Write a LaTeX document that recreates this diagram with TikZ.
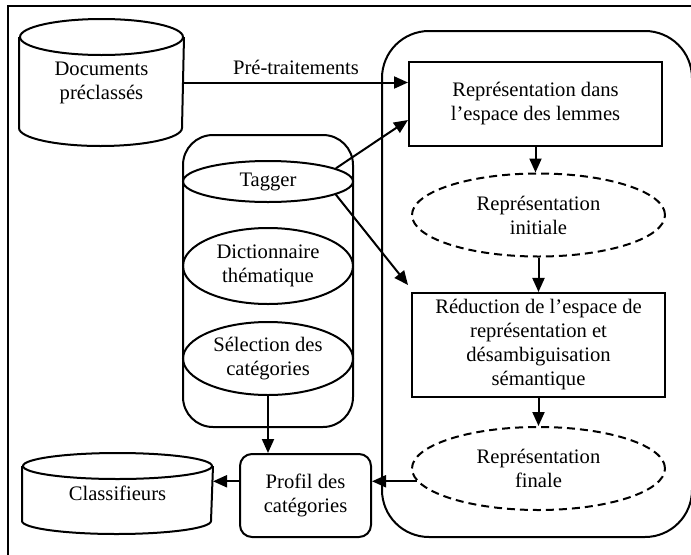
\documentclass[tikz,border=0pt]{standalone}
\usepackage{fontspec}
\setmainfont{Liberation Serif}
\usetikzlibrary{shapes.geometric,arrows.meta}
\tikzset{
  txt/.style={align=center,inner sep=0pt},
  boite/.style={draw,rectangle,align=center,minimum width=126.5pt},
  bulle/.style={draw,dash pattern=on 4pt off 2.5pt,ellipse,align=center,inner sep=0pt,minimum width=126.5pt,minimum height=41.5pt},
  outil/.style={draw,ellipse,align=center,inner sep=0pt,minimum width=85pt}
}
\begin{document}
\begin{tikzpicture}[x=0.5pt,y=0.5pt,line width=1pt,font=\fontsize{10.3}{12}\selectfont,>={Triangle[length=7pt,width=6pt]}]
  \clip (0,0) rectangle (691,554);
  \draw (8,548) rectangle (720,-20);
  \draw[rounded corners=23.5pt] (382,17) rectangle (692,523);
  \draw[rounded corners=15pt] (183,127) rectangle (353,419);

  % bases
  \node[txt,minimum width=81.5pt,minimum height=62.5pt] (docs) at (101.5,471.5) {Documents\\préclassés};
  \draw ([yshift=-9pt]docs.north west) -- ([yshift=9pt]docs.south west)
    arc[start angle=180,end angle=360,x radius=40.75pt,y radius=9pt] -- ([yshift=-9pt]docs.north east);
  \draw ([yshift=-9pt]docs.north) ellipse[x radius=40.75pt,y radius=9pt];
  \node[txt,minimum width=94.5pt,minimum height=39.5pt] (cls) at (117.5,60.5) {Classifieurs};
  \draw ([yshift=-6.5pt]cls.north west) -- ([yshift=6.5pt]cls.south west)
    arc[start angle=180,end angle=360,x radius=47.25pt,y radius=6.5pt] -- ([yshift=-6.5pt]cls.north east);
  \draw ([yshift=-6.5pt]cls.north) ellipse[x radius=47.25pt,y radius=6.5pt];

  % outils
  \node[outil,minimum height=20.5pt] (tag) at (268,372.5) {Tagger};
  \node[outil,minimum height=38pt] (dic) at (268,288) {Dictionnaire\\thématique};
  \node[outil,minimum height=36.5pt] (sel) at (268,195.5) {Sélection des\\catégories};
  \node[draw,rounded corners=6pt,align=center,minimum width=65.5pt,minimum height=41.5pt] (pro) at (305.5,58.5) {Profil des\\catégories};

  % chaine de traitement
  \node[boite,minimum height=42pt] (lem) at (535.5,450) {Représentation dans\\l’espace des lemmes};
  \node[bulle] (ini) at (538.5,339) {Représentation\\initiale};
  \node[boite,minimum height=52pt] (red) at (538.5,209) {Réduction de l’espace de\\représentation et\\désambiguisation\\sémantique};
  \node[bulle] (fin) at (538.5,85.5) {Représentation\\finale};

  \draw[->] (docs.east) -- node[above] {Pré-traitements} (docs.east -| lem.west);
  \draw[->] (tag.11) -- ([yshift=-8pt]lem.west);
  \draw[->] (tag.-11) -- ([shift={(-1.5pt,3.5pt)}]red.north west);
  \draw[->] (lem.south) -- (lem.south |- ini.north);
  \draw[->] (ini.south) -- (red.north);
  \draw[->] (red.south) -- (fin.north);
  \draw[->] (sel.south) -- (sel.south |- pro.north);
  \coordinate (sortie) at (fin.186);
  \draw[->] (sortie) -- (sortie -| pro.east);
  \draw[->] (pro.west |- sortie) -- (cls.east |- sortie);
\end{tikzpicture}
\end{document}
